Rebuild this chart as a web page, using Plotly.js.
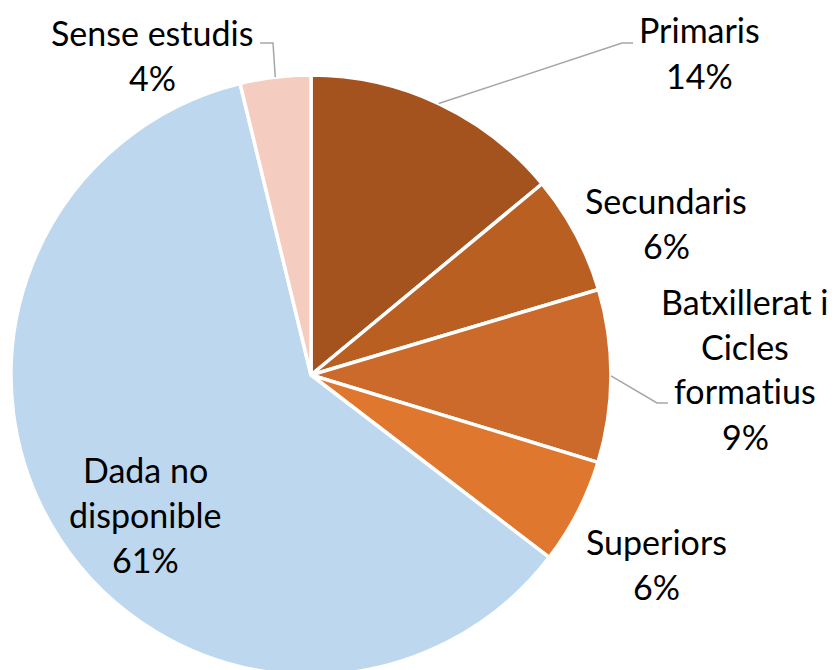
<!DOCTYPE html>
<html>
<head>
<meta charset="utf-8">
<script src="https://cdn.plot.ly/plotly-3.0.1.min.js"></script>
<style>
html,body{margin:0;padding:0;background:#fff;overflow:hidden;}
#wrap{width:834px;height:670px;overflow:hidden;}
svg text{font-variant-ligatures:none;font-feature-settings:"liga" 0;}
</style>
</head>
<body>
<div id="wrap"><div id="chart"></div></div>
<script>
// Data
var categories = ["Primaris", "Secundaris", "Batxillerat i Cicles formatius", "Superiors", "Dada no disponible", "Sense estudis"];
var values = [14.0, 6.4, 9.3, 5.7, 60.8, 3.8];
var colors = ["#A4531F", "#B95F22", "#CB6A2A", "#E0772F", "#BDD7EE", "#F4CCC0"];
var labelLines = [
  ["Primaris"],
  ["Secundaris"],
  ["Batxillerat i", "Cicles", "formatius"],
  ["Superiors"],
  ["Dada no", "disponible"],
  ["Sense estudis"]
];

// Layout geometry (pixels)
var W = 834, H = 680;
var cx = 311, cy = 375, R = 300;
var labelPos = [
  {x: 699, y: 30, elbow: [622, 43], end: [633, 43]},
  {x: 666, y: 200},
  {x: 745, y: 301, elbow: [657, 403], end: [668, 403]},
  {x: 656, y: 541},
  {x: 145, y: 469},
  {x: 152, y: 32, elbow: [273, 43], end: [260, 43]}
];
var lineGap = 45;

function px(x){ return x / W; }
function py(y){ return 1 - y / H; }

var total = values.reduce(function(a,b){return a+b;}, 0);
var annotations = [], shapes = [];
var cum = 0;
for (var i = 0; i < values.length; i++) {
  var pct = Math.round(values[i] / total * 100) + "%";
  var lines = labelLines[i].concat([pct]);
  var p = labelPos[i];
  for (var j = 0; j < lines.length; j++) {
    annotations.push({
      xref: "paper", yref: "paper",
      x: px(p.x), y: py(p.y + j * lineGap),
      text: lines[j], showarrow: false,
      xanchor: "center", yanchor: "middle",
      font: {family: "Lato, sans-serif", size: 34, color: "#000000"}
    });
  }
  var mid = (cum + values[i] / 2) / total * 2 * Math.PI;
  cum += values[i];
  if (p.elbow) {
    var ax = cx + R * Math.sin(mid), ay = cy - R * Math.cos(mid);
    shapes.push({
      type: "path", xref: "paper", yref: "paper",
      path: "M " + px(ax) + "," + py(ay) + " L " + px(p.elbow[0]) + "," + py(p.elbow[1]) + " L " + px(p.end[0]) + "," + py(p.end[1]),
      line: {color: "#A6A6A6", width: 1.5}
    });
  }
}

var trace = {
  type: "pie",
  labels: categories,
  values: values,
  sort: false,
  direction: "clockwise",
  rotation: 0,
  textinfo: "none",
  hoverinfo: "label+percent",
  marker: {colors: colors, line: {color: "#FFFFFF", width: 3.5}},
  domain: {x: [px(cx - R), px(cx + R)], y: [py(cy + R), py(cy - R)]},
  showlegend: false
};

Plotly.newPlot("chart", [trace], {
  width: W, height: H,
  margin: {l: 0, r: 0, t: 0, b: 0},
  paper_bgcolor: "#FFFFFF",
  showlegend: false,
  annotations: annotations,
  shapes: shapes
}, {staticPlot: true});
</script>
</body>
</html>
